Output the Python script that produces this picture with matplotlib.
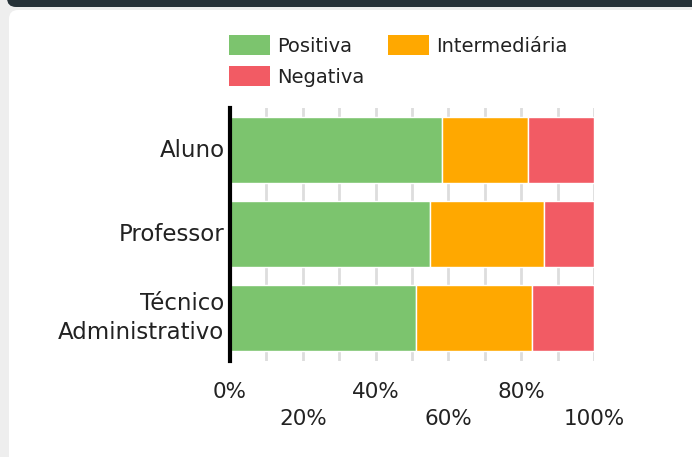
import matplotlib
matplotlib.use('Agg')
import matplotlib.pyplot as plt
import numpy as np
from matplotlib.patches import FancyBboxPatch, Patch
from matplotlib.transforms import IdentityTransform

categories = ['Aluno', 'Professor', 'Técnico\nAdministrativo']
positiva = [58.2, 54.9, 51.1]
intermediaria = [23.6, 31.3, 31.9]
negativa = [18.2, 13.8, 17.0]
series_names = ['Positiva', 'Intermediária', 'Negativa']
colors = ['#7CC46E', '#FFA800', '#F25B64']
tick_values = [0, 20, 40, 60, 80, 100]

plt.rcParams['font.family'] = ['DejaVu Sans']
text_color = '#222222'

W, H = 692, 457
fig = plt.figure(figsize=(W / 100, H / 100), dpi=100, facecolor='#EEEEEE')

# card background and dark header strip (pixel coords)
card = FancyBboxPatch((9, -30), W + 30, H - 10 + 30,
                      boxstyle='round,pad=0,rounding_size=9',
                      transform=IdentityTransform(), facecolor='white',
                      edgecolor='none', zorder=-3)
fig.patches.append(card)
header = FancyBboxPatch((7, H - 7), W + 30, 40,
                        boxstyle='round,pad=0,rounding_size=9',
                        transform=IdentityTransform(), facecolor='#263238',
                        edgecolor='none', zorder=-2)
fig.patches.append(header)

ax = fig.add_axes([230 / W, 96 / H, 364 / W, 253 / H])
ax.set_facecolor('none')

y = np.arange(len(categories))
left = np.zeros(len(categories))
for vals, col in zip([positiva, intermediaria, negativa], colors):
    ax.barh(y, vals, left=left, height=0.79, color=col, edgecolor='white',
            linewidth=1, zorder=3)
    left = left + np.array(vals)

ax.set_xlim(0, 100)
ax.set_ylim(2.51, -0.5)
ax.set_yticks(y)
ax.set_yticklabels(categories, fontsize=16.5, color=text_color,
                   ha='right', va='center', linespacing=1.3)
ax.set_xticks(tick_values)
ax.set_xticklabels([('%d%%' % v) if i % 2 == 0 else ('\n%d%%' % v)
                    for i, v in enumerate(tick_values)],
                   fontsize=15.5, color=text_color, linespacing=1.45)
ax.set_xticks(np.arange(0, 101, 10), minor=True)
ax.tick_params(axis='both', which='both', length=0)
ax.tick_params(axis='x', pad=15)
ax.tick_params(axis='y', pad=4)
ax.grid(which='minor', axis='x', color='#DDDDDD', linewidth=2, zorder=0)
ax.grid(which='major', axis='x', color='#DDDDDD', linewidth=2, zorder=0)
ax.set_axisbelow(True)
for s in ['top', 'right', 'bottom']:
    ax.spines[s].set_visible(False)
ax.spines['left'].set_linewidth(3)
ax.spines['left'].set_color('black')
ax.spines['left'].set_zorder(5)

# legend fills column-first, so reorder to get a row-wise layout
order = [0, 2, 1]
handles = [Patch(facecolor=colors[i], edgecolor='none') for i in order]
labels = [series_names[i] for i in order]
leg = fig.legend(handles, labels, ncol=2, loc='upper left',
                 bbox_to_anchor=(229 / W, 1 - 35 / H), frameon=False,
                 fontsize=14, handlelength=2.1, handleheight=1.2,
                 handletextpad=0.4, columnspacing=1.18, labelspacing=0.55,
                 borderpad=0, borderaxespad=0, labelcolor=text_color)

fig.savefig('out.png', dpi=100, facecolor=fig.get_facecolor())
